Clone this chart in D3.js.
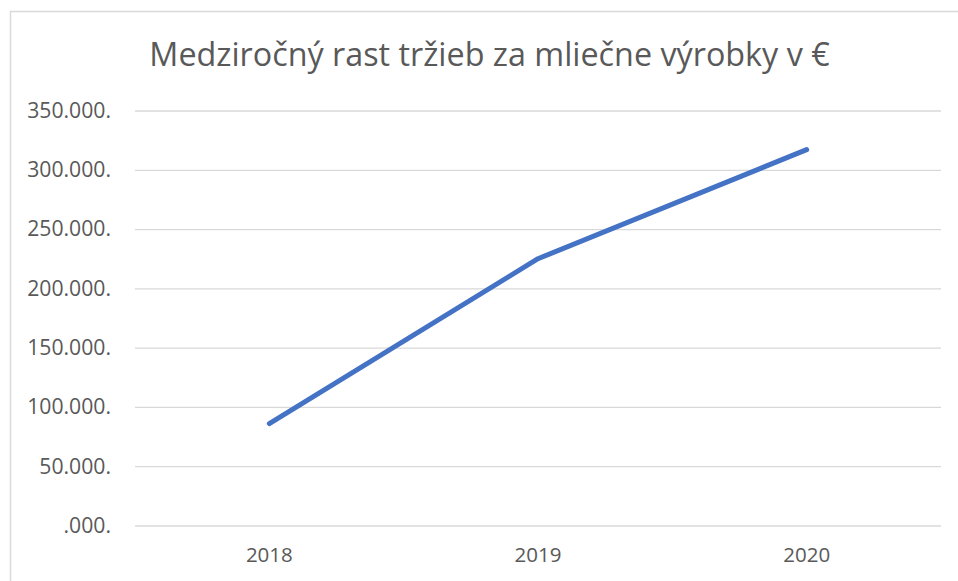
<!DOCTYPE html>
<html>
<head>
<meta charset="utf-8">
<script src="https://cdn.jsdelivr.net/npm/d3@7/dist/d3.min.js"></script>
<style>
  html, body { margin: 0; padding: 0; background: #fff; }
  svg { display: block; }
</style>
</head>
<body>
<svg id="chart" width="958" height="581"></svg>
<script>
const years = ["2018", "2019", "2020"]
const sales = [86000, 225000, 317000]
const yTicks = [0, 50000, 100000, 150000, 200000, 250000, 300000, 350000]
const title = "Medziročný rast tržieb za mliečne výrobky v €"

const width = 958
const height = 581
const textColor = "#595959"
const gridColor = "#d9d9d9"
const lineColor = "#4472C4"
const font = "'Open Sans', sans-serif"

const plot = {left: 135, right: 941, top: 110.5, bottom: 525.5}

const svg = d3.select("#chart")

// chart area frame (cropped on right and bottom)
svg.append("rect")
  .attr("x", 10.5)
  .attr("y", 11.5)
  .attr("width", 980)
  .attr("height", 600)
  .attr("fill", "#fff")
  .attr("stroke", gridColor)
  .attr("stroke-width", 1.5)

svg.append("text")
  .attr("x", 489.5)
  .attr("y", 66)
  .attr("text-anchor", "middle")
  .attr("fill", textColor)
  .style("font-family", font)
  .style("font-size", "32.3px")
  .text(title)

const x = d3.scaleBand()
  .domain(years)
  .range([plot.left, plot.right])

const y = d3.scaleLinear()
  .domain([0, 350000])
  .range([plot.bottom, plot.top])

function fmt(v) {
  const k = Math.floor(v / 1000)
  return (k > 0 ? String(k) : "") + "." + String(v % 1000).padStart(3, "0") + "."
}

const yAxis = svg.append("g")
  .attr("transform", `translate(${plot.left},0)`)
  .call(d3.axisLeft(y).tickValues(yTicks).tickFormat(fmt).tickSize(-(plot.right - plot.left)).tickPadding(24))

yAxis.select(".domain").remove()
yAxis.selectAll(".tick line")
  .attr("stroke", gridColor)
  .attr("stroke-width", 1.3)
yAxis.selectAll(".tick text")
  .attr("fill", textColor)
  .style("font-family", font)
  .style("font-size", "21.2px")

const xAxis = svg.append("g")
  .attr("transform", `translate(0,${plot.bottom})`)
  .call(d3.axisBottom(x).tickSize(0).tickPadding(22))

xAxis.select(".domain").remove()
xAxis.selectAll(".tick text")
  .attr("fill", textColor)
  .style("font-family", font)
  .style("font-size", "20.5px")

const line = d3.line()
  .x((d, i) => x(years[i]) + x.bandwidth() / 2)
  .y(d => y(d))

svg.append("path")
  .datum(sales)
  .attr("d", line)
  .attr("fill", "none")
  .attr("stroke", lineColor)
  .attr("stroke-width", 5)
  .attr("stroke-linecap", "round")
  .attr("stroke-linejoin", "round")
</script>
</body>
</html>
